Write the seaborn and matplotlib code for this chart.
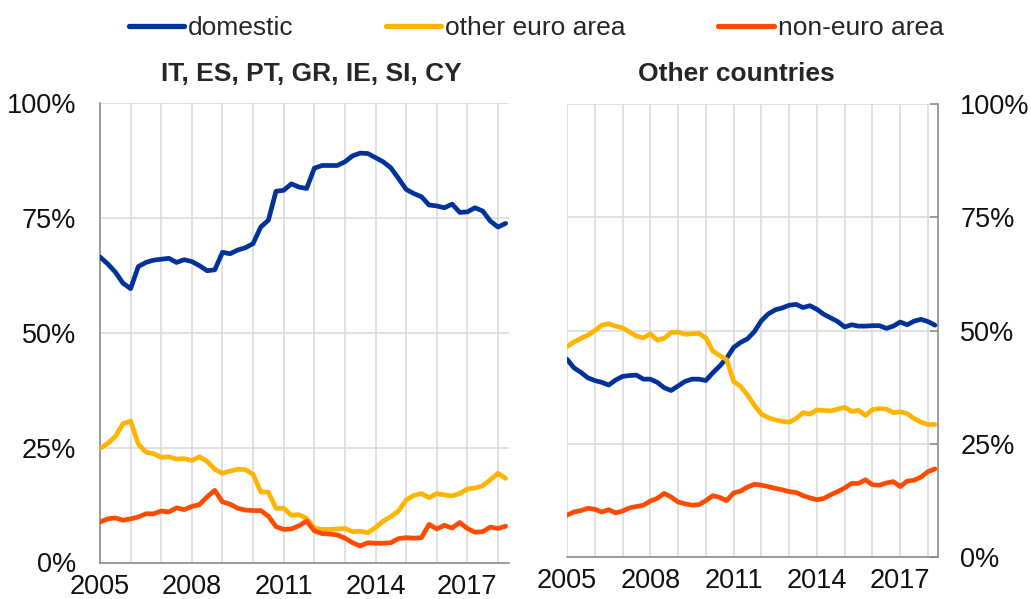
import numpy as np
import pandas as pd
import matplotlib
matplotlib.use("Agg")
import matplotlib.pyplot as plt
import seaborn as sns
from matplotlib.lines import Line2D

# ---------------- data (quarterly, 2005Q1 - 2018Q2, % shares) ----------------
periods = pd.period_range("2005Q1", "2018Q2", freq="Q")
series_names = ["domestic", "other euro area", "non-euro area"]
panel_titles = ["IT, ES, PT, GR, IE, SI, CY", "Other countries"]

left_domestic = [66.5, 65.0, 63.2, 60.8, 59.6, 64.4, 65.3, 65.8, 66.0, 66.2,
                 65.3, 65.9, 65.5, 64.6, 63.5, 63.7, 67.5, 67.2, 68.0, 68.5,
                 69.4, 73.0, 74.5, 80.8, 81.0, 82.4, 81.7, 81.4, 85.8, 86.4,
                 86.4, 86.4, 87.2, 88.5, 89.1, 89.0, 88.1, 87.2, 85.9, 83.6,
                 81.2, 80.3, 79.6, 77.8, 77.6, 77.2, 78.0, 76.2, 76.3, 77.2,
                 76.5, 74.3, 73.0, 73.8]
left_other_euro = [24.8, 25.9, 27.4, 30.2, 30.8, 25.8, 24.0, 23.7, 22.9, 23.0,
                   22.5, 22.6, 22.2, 23.0, 22.0, 20.3, 19.4, 19.9, 20.3, 20.2,
                   19.2, 15.4, 15.3, 11.8, 11.8, 10.3, 10.4, 9.6, 7.5, 7.2,
                   7.2, 7.3, 7.4, 6.7, 6.8, 6.5, 7.6, 9.0, 10.0, 11.2,
                   13.6, 14.6, 15.0, 14.1, 15.0, 14.7, 14.5, 15.0, 16.0, 16.2,
                   16.7, 18.0, 19.4, 18.3]
left_non_euro = [8.8, 9.5, 9.7, 9.2, 9.5, 9.9, 10.6, 10.6, 11.2, 11.0,
                 11.9, 11.5, 12.2, 12.6, 14.3, 15.7, 13.2, 12.7, 11.8, 11.4,
                 11.3, 11.3, 10.1, 7.8, 7.2, 7.3, 8.0, 9.0, 6.9, 6.3,
                 6.2, 6.0, 5.3, 4.3, 3.6, 4.3, 4.2, 4.2, 4.3, 5.2,
                 5.4, 5.3, 5.4, 8.3, 7.3, 8.1, 7.5, 8.7, 7.4, 6.6,
                 6.7, 7.7, 7.4, 7.9]

right_domestic = [43.7, 41.8, 40.8, 39.6, 39.0, 38.6, 38.0, 39.1, 39.9, 40.1,
                  40.2, 39.3, 39.3, 38.6, 37.4, 36.8, 37.8, 38.8, 39.3, 39.3,
                  39.0, 40.7, 42.2, 43.9, 46.3, 47.4, 48.2, 49.8, 52.2, 53.7,
                  54.6, 55.0, 55.6, 55.8, 55.1, 55.5, 54.7, 53.6, 52.8, 52.0,
                  50.8, 51.3, 51.0, 51.0, 51.1, 51.1, 50.5, 51.0, 51.9, 51.3,
                  52.1, 52.5, 52.0, 51.2]
right_other_euro = [46.5, 47.5, 48.3, 49.0, 50.0, 51.2, 51.5, 51.0, 50.6, 49.7,
                    48.8, 48.4, 49.3, 47.9, 48.3, 49.6, 49.7, 49.2, 49.3, 49.4,
                    48.4, 45.5, 44.5, 43.6, 38.8, 37.7, 35.8, 33.5, 31.6, 30.8,
                    30.3, 30.0, 29.8, 30.6, 31.9, 31.6, 32.5, 32.4, 32.3, 32.7,
                    33.1, 32.2, 32.4, 31.3, 32.6, 32.8, 32.7, 31.9, 32.1, 31.7,
                    30.6, 29.8, 29.3, 29.3]
right_non_euro = [9.3, 10.0, 10.3, 10.8, 10.6, 10.0, 10.5, 9.8, 10.2, 10.9,
                  11.2, 11.5, 12.4, 13.0, 14.1, 13.3, 12.2, 11.8, 11.5, 11.6,
                  12.5, 13.6, 13.2, 12.5, 14.2, 14.6, 15.5, 16.1, 15.9, 15.6,
                  15.2, 14.9, 14.5, 14.3, 13.6, 13.1, 12.7, 13.0, 13.8, 14.5,
                  15.3, 16.3, 16.3, 17.1, 16.0, 15.9, 16.4, 16.7, 15.6, 16.8,
                  17.0, 17.7, 18.9, 19.5]

y_ticks = [0, 25, 50, 75, 100]
y_labels = ["0%", "25%", "50%", "75%", "100%"]
x_label_years = [2005, 2008, 2011, 2014, 2017]

colors = {"domestic": "#003299", "other euro area": "#FFB400",
          "non-euro area": "#FF4B00"}

# numeric time axis: year + quarter fraction
t = np.array([p.year + (p.quarter - 1) / 4 for p in periods])

rows = []
panel_data = {
    panel_titles[0]: [left_domestic, left_other_euro, left_non_euro],
    panel_titles[1]: [right_domestic, right_other_euro, right_non_euro],
}
for panel, vals in panel_data.items():
    for name, v in zip(series_names, vals):
        for ti, vi in zip(t, v):
            rows.append({"panel": panel, "series": name, "t": ti, "value": vi})
df = pd.DataFrame(rows)

# ---------------- figure ----------------
sns.set_style("white")
plt.rcParams["font.family"] = ["Liberation Sans", "DejaVu Sans"]

fig = plt.figure(figsize=(10.31, 5.99), dpi=100)
ax_l = fig.add_axes([100 / 1031, 1 - 562.5 / 599, 409 / 1031, 459.5 / 599])
ax_r = fig.add_axes([567 / 1031, 1 - 557.3 / 599, 371 / 1031, 453.3 / 599])

grid_c = "#d9d9d9"
spine_c = "#8c8c8c"
txt_c = "#111111"
fs = 19.5

for ax, panel in zip([ax_l, ax_r], panel_titles):
    sub = df[df["panel"] == panel]
    sns.lineplot(data=sub, x="t", y="value", hue="series",
                 hue_order=series_names, palette=colors, linewidth=3.4,
                 legend=False, ax=ax, zorder=3)
    ax.set_xlim(2005, 2018.36)
    ax.set_ylim(0, 100)
    ax.set_xlabel("")
    ax.set_ylabel("")
    ax.set_xticks(x_label_years)
    ax.set_xticklabels([str(y) for y in x_label_years])
    ax.set_xticks(np.arange(2005, 2019), minor=True)
    ax.set_yticks(y_ticks)
    ax.set_yticklabels(y_labels)
    ax.grid(True, which="both", axis="x", color=grid_c, linewidth=1.1, zorder=0)
    ax.grid(True, which="major", axis="y", color=grid_c, linewidth=1.1, zorder=0)
    ax.tick_params(axis="x", which="major", direction="out", length=6,
                   width=1.2, color=spine_c, labelsize=fs, pad=2,
                   labelcolor=txt_c)
    ax.tick_params(axis="x", which="minor", length=0)
    for s in ax.spines.values():
        s.set_color(spine_c)
        s.set_linewidth(1.2)
    ax.spines["top"].set_visible(False)

# panel titles (centred as in the reference)
title_y = 1 - 74 / 599
fig.text(311 / 1031, title_y, panel_titles[0], ha="center", va="center",
         fontsize=19, fontweight="bold", color="#262626")
fig.text(736 / 1031, title_y, panel_titles[1], ha="center", va="center",
         fontsize=19, fontweight="bold", color="#262626")

ax_l.spines["right"].set_visible(False)
ax_l.tick_params(axis="y", direction="in", length=6, width=1.2,
                 color=spine_c, labelsize=fs, pad=17, labelcolor=txt_c)

ax_r.spines["left"].set_visible(False)
ax_r.yaxis.tick_right()
ax_r.tick_params(axis="y", direction="in", length=6, width=1.2,
                 color=spine_c, labelsize=fs, pad=16, labelcolor=txt_c,
                 left=False, right=True, labelleft=False, labelright=True)

handles = [Line2D([0], [0], color=colors[n], linewidth=3.8) for n in series_names]
fig.legend(handles, series_names, loc="center", bbox_to_anchor=(0.52, 0.953),
           ncol=3, frameon=False, fontsize=19, handlelength=2.1,
           handletextpad=0.15, columnspacing=3.5)

fig.savefig("out.png", dpi=100)
